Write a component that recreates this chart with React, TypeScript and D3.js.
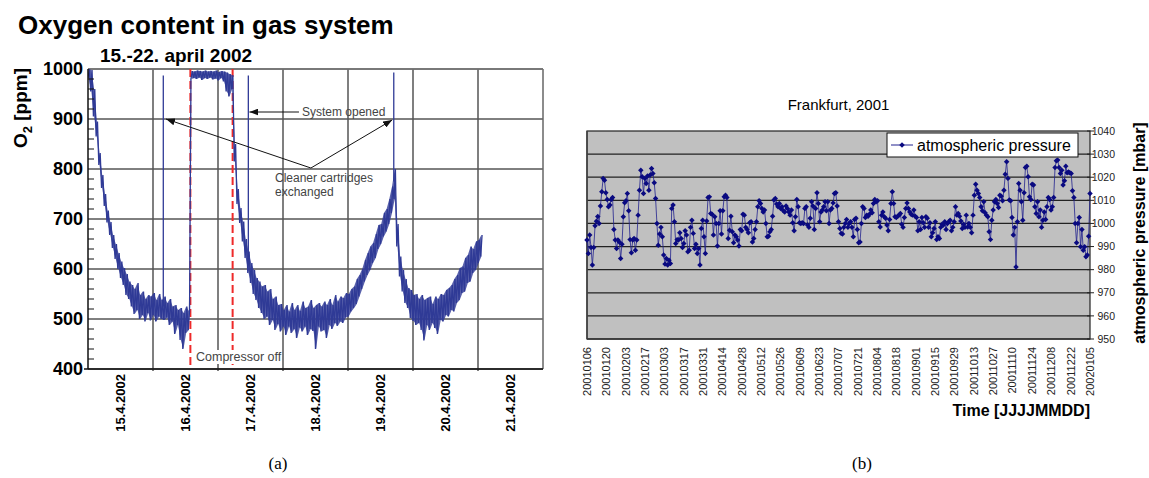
import React from 'react';
import * as d3 from 'd3';

const SANS = '"Liberation Sans", Arial, Helvetica, sans-serif';
const SERIF = '"Liberation Serif", "Times New Roman", serif';

// ---------- Panel (a): oxygen content, 15.-22. April 2002 ----------
const o2DayLabels = ['15.4.2002', '16.4.2002', '17.4.2002', '18.4.2002', '19.4.2002', '20.4.2002', '21.4.2002'];
const o2Ticks = [400, 500, 600, 700, 800, 900, 1000];

// hourly envelope of the O2 reading (index = hours since 15.4. 00:00), ppm
const o2Low = [
  982, 955, 905, 865, 808, 762, 726, 693, 668, 642,
  620, 600, 582, 568, 548, 540, 525, 510, 518, 500,
  508, 495, 512, 497, 508, 495, 505, 500, 498, 503,
  488, 495, 470, 488, 458, 440, 472, 478, 980, 982,
  980, 983, 978, 982, 980, 983, 979, 981, 977, 982,
  975, 955, 945, 960, 815, 730, 692, 655, 622, 592,
  572, 550, 538, 522, 512, 500, 505, 488, 498, 478,
  490, 475, 485, 468, 485, 472, 480, 462, 483, 475,
  485, 468, 480, 476, 440, 485, 475, 478, 462, 488,
  480, 492, 486, 495, 492, 503, 505, 515, 522, 530,
  545, 560, 575, 588, 598, 612, 622, 640, 650, 665,
  675, 690, 712, 740, 645, 585, 555, 532, 522, 502,
  496, 488, 492, 478, 457, 488, 478, 492, 482, 470,
  498, 495, 508, 505, 518, 515, 532, 538, 552, 555,
  572, 575, 592, 598, 612, 625,
];
const o2High = [
  1000, 998, 960, 895, 832, 788, 750, 717, 694, 668,
  650, 632, 615, 602, 590, 575, 568, 560, 572, 548,
  555, 540, 548, 545, 552, 538, 550, 538, 545, 532,
  540, 525, 528, 518, 522, 512, 525, 516, 996, 995,
  997, 996, 995, 997, 995, 996, 995, 997, 994, 996,
  995, 993, 990, 988, 850, 760, 722, 695, 660, 635,
  612, 598, 582, 575, 565, 568, 555, 560, 540, 545,
  528, 530, 518, 528, 515, 532, 518, 528, 516, 535,
  522, 525, 538, 522, 528, 532, 525, 535, 528, 540,
  528, 548, 535, 545, 542, 552, 550, 560, 565, 580,
  588, 600, 618, 632, 645, 652, 670, 688, 690, 712,
  720, 740, 765, 800, 690, 625, 598, 580, 562, 558,
  548, 550, 540, 548, 538, 542, 545, 530, 545, 540,
  550, 548, 558, 562, 568, 580, 588, 602, 605, 622,
  628, 645, 640, 655, 658, 668,
];

// short excursions when cleaner cartridges were exchanged / the system was opened
const spikeHours = [27.8, 59.2, 112.9];
const spikeBase = [525, 615, 775];
const spikeTop = [987, 987, 993];

// compressor switched off / on again (hours)
const compressorOffHours = [37.8, 53.4];

// ---------- Panel (b): Frankfurt atmospheric pressure 2001 ----------
const pressureDates = [
  '20010106', '20010120', '20010203', '20010217', '20010303', '20010317', '20010331',
  '20010414', '20010428', '20010512', '20010526', '20010609', '20010623', '20010707',
  '20010721', '20010804', '20010818', '20010901', '20010915', '20010929', '20011013',
  '20011027', '20011110', '20011124', '20011208', '20011222', '20020105',
];
const pressureTicks = [950, 960, 970, 980, 990, 1000, 1010, 1020, 1030, 1040];

// daily mean pressure, mbar
const pressure = [
  992.8, 987, 995, 989.6, 982, 989.6, 999, 1001, 1003, 1000,
  1007.5, 1013.7, 1019.5, 1018.7, 1013.3, 1010.4, 1007.2, 1008, 1010.4, 1011.2,
  997.4, 992.8, 989.2, 992.8, 992, 984.8, 991, 1002.9, 1009, 1009.8,
  1013, 1005.5, 993, 987.3, 992.8, 993.5, 988.4, 992.8, 1003.6, 1014.4,
  1023, 1020.2, 1013, 1019.5, 1017.3, 1020.5, 1014.4, 1021, 1023.8, 1021.6,
  1017.6, 1010.8, 1000, 990.6, 995.4, 998.3, 994.2, 986.3, 982.4, 984.8,
  982, 984.1, 982.7, 1006.5, 1008, 1000.7, 991.3, 993, 992.8, 996,
  993.5, 989.6, 991.3, 996.8, 995, 987.7, 988.4, 998.3, 1001.4, 995.7,
  989.2, 991, 987, 989.2, 982, 997.8, 1001.4, 994.2, 987, 1001.1,
  1011.2, 1011.5, 1004.3, 1004, 995, 1002.9, 1000, 990.2, 1000, 1005.5,
  995.4, 1005.5, 1011.5, 1012.2, 1011.2, 993.5, 997.1, 1003.1, 996.4, 991.6,
  995, 994.2, 992.8, 990.2, 997.4, 996.8, 1004, 1003.6, 998.3, 997.4,
  996, 1000.3, 1000.7, 992, 993.5, 997.4, 1000.7, 1007.2, 1009.8, 1008.6,
  1006.5, 1005, 1005.8, 1000, 994.2, 994.5, 996.4, 997.4, 1003.1, 1010.1,
  1010.8, 1008.4, 1007.2, 1008.6, 1006.5, 1007.2, 1005.5, 1005, 1007.5, 1006.5,
  1005, 1003.6, 1005.8, 1000.3, 996.8, 1002.9, 1010.4, 1007.2, 1000.3, 1000,
  1000.3, 1000, 1006.5, 1007.2, 999.3, 998.3, 1002.2, 1009.4, 1007.5, 997.4,
  1006.5, 1013.3, 1008.6, 1000.7, 1005, 1005.8, 1007.2, 1009.4, 1005.5, 1009.4,
  1000, 1005.8, 1006.5, 1008.9, 1013, 1013.3,
  1007.5, 1000.7, 997.8, 995.7, 995.4, 998.3, 1000, 1001.7, 998.3, 1000,
  1000.7, 998.3, 994.2, 1001.7, 1002.2, 997.4, 991.6, 992, 1000, 1007.2,
  1006.5, 1002.6, 1003.6, 1003.1, 1004, 1005.8, 1004.6, 1008.6, 1010.4, 1009.4,
  1009.8, 1000.7, 998.5, 1003.6, 1005, 1002.9, 1002.2, 999.3, 996.8, 1001.7,
  1008.6, 1013.7, 1008.6, 1002.9, 1002.6, 1003.1, 1003.6, 1004.3, 999.7, 998.3,
  1002.6, 1006.5, 1008.9, 1006.5, 1005, 1004, 1003.6, 1005.8, 1003.1, 1002.6,
  996.8, 1000.7, 997.4, 1002.6, 1000.3, 998.3, 1002.9, 1002.2, 998.3, 1000.3,
  994.2, 996, 997.8, 1000.7, 993, 994.2, 993.5, 998.3, 999.7, 999.3,
  1000.7, 997.4, 1000, 1000.7, 1001.4, 996.8, 998.3, 1000.7, 1007.2, 1003.6,
  1004.3, 1003.1, 1001.1, 997.8, 999.7, 998.3, 1003.6, 998.5, 1000, 998.3,
  996, 1003.6, 1012.2, 1017, 1014.4, 1013, 1011.2, 1007.2, 1005.5, 1009.4,
  1004.6, 1003.6, 1002.9, 996.4, 993, 1001.4, 1005.8, 1009.4, 1010.4, 1008.6,
  1006.9, 1012.2, 1011.8, 1009.8, 1014.4, 1021.3, 1026.7, 1019.5, 1010.1, 1009.8,
  1002.6, 995, 998.3, 981.2, 1000.7, 1017.3, 1014.4, 1009.4, 1001.4, 1013.3,
  1024.2, 1024.8, 1020.2, 1011.5, 1010.4, 1017, 1016.6, 1007.2, 1004.3, 1009.4,
  1002.9, 1005.8, 998.3, 1001.4, 1005, 1001.7, 1007.2, 1011.2, 1010.4, 1005.8,
  1007.2, 1011.2, 1024.2, 1027.1, 1027.4, 1024.2, 1021.6, 1023, 1016.6, 1018.5,
  1024.8, 1021.9, 1022.3, 1021.9, 1021.6, 1014.1, 1011.2, 1000, 991.6, 1000,
  1002.6, 989.9, 997.4, 988.4, 989.9, 985.6, 986.3, 994.5, 1013,
];

function OxygenPanel() {
  const xA = d3.scaleLinear().domain([0, 168]).range([88, 543]);
  const yA = d3.scaleLinear().domain([400, 1000]).range([369, 69]);
  const dayBand = d3.scaleBand<string>().domain(o2DayLabels).range([xA(0), xA(168)]);
  const minorTicks = yA.ticks(30).filter((t) => t % 100 !== 0);

  const tracePts: [number, number][] = [];
  o2Low.forEach((lo, i) => {
    tracePts.push([i, lo]);
    tracePts.push([i + 0.5, o2High[i]]);
  });
  const traceLine = d3
    .line<[number, number]>()
    .x((d) => xA(d[0]))
    .y((d) => yA(d[1]));
  // noise ribbon: lower edge through the hourly minima, upper edge through the maxima
  const ribbon = d3
    .area<number>()
    .x((_, i) => xA(i + 0.25))
    .y0((_, i) => yA(o2Low[i]))
    .y1((_, i) => yA(o2High[i]));

  const [x0, x1] = xA.range();
  const [yBot, yTop] = yA.range();

  return (
    <g>
      <defs>
        <clipPath id="o2clip">
          <rect x={x0} y={yTop - 1} width={x1 - x0} height={yBot - yTop + 1} />
        </clipPath>
        <marker id="arrowHead" markerUnits="userSpaceOnUse" markerWidth={9} markerHeight={7}
          refX={9} refY={3.5} orient="auto">
          <path d="M0,0 L9,3.5 L0,7 Z" fill="#111" />
        </marker>
      </defs>

      <text x={18} y={34} fontFamily={SANS} fontWeight="bold" fontSize={26} fill="#000">
        Oxygen content in gas system
      </text>
      <text x={100} y={62} fontFamily={SANS} fontWeight="bold" fontSize={19} fill="#000">
        15.-22. april 2002
      </text>

      {/* horizontal grid */}
      {o2Ticks.map((t) => (
        <line key={'hg' + t} x1={x0} x2={x1} y1={yA(t)} y2={yA(t)} stroke="#000" strokeWidth={1} />
      ))}
      {/* day boundaries */}
      {o2DayLabels.slice(1).map((d) => (
        <line key={'vg' + d} x1={dayBand(d)!} x2={dayBand(d)!} y1={yTop} y2={yBot + 2}
          stroke="#555" strokeWidth={1.5} />
      ))}
      <line x1={x1} x2={x1} y1={yTop} y2={yBot} stroke="#666" strokeWidth={1.5} />
      <line x1={x0} x2={x1} y1={yTop} y2={yTop} stroke="#777" strokeWidth={1.5} />

      {/* compressor off interval */}
      {compressorOffHours.map((h) => (
        <line key={'co' + h} x1={xA(h)} x2={xA(h)} y1={yTop} y2={yBot}
          stroke="#ee2a2a" strokeWidth={2} strokeDasharray="8,4" />
      ))}

      <g clipPath="url(#o2clip)">
        <path d={ribbon(o2Low) || ''} fill="#2f3a96" fillOpacity={0.8} stroke="none" />
        <path d={traceLine(tracePts) || ''} fill="none" stroke="#2f3a96" strokeWidth={1.3} />
        {spikeHours.map((h, i) => (
          <line key={'sp' + i} x1={xA(h)} x2={xA(h)} y1={yA(spikeBase[i])} y2={yA(spikeTop[i])}
            stroke="#2f3a96" strokeWidth={1.3} />
        ))}
      </g>

      {/* axes */}
      <line x1={x0} x2={x0} y1={yTop} y2={yBot} stroke="#111" strokeWidth={1.5} />
      <line x1={x0 - 4} x2={x1} y1={yBot} y2={yBot} stroke="#111" strokeWidth={1.5} />
      {minorTicks.map((t) => (
        <line key={'mt' + t} x1={x0} x2={x0 + 6} y1={yA(t)} y2={yA(t)} stroke="#111" strokeWidth={1} />
      ))}
      {o2Ticks.map((t) => (
        <text key={'yl' + t} x={83} y={yA(t)} dy="0.36em" textAnchor="end" fontFamily={SANS}
          fontWeight="bold" fontSize={18} fill="#000">
          {t}
        </text>
      ))}
      <text transform="translate(27,108) rotate(-90)" textAnchor="middle" fontFamily={SANS}
        fontWeight="bold" fontSize={19} fill="#000">
        O<tspan fontSize={13} dy={5}>2</tspan>
        <tspan dy={-5}> [ppm]</tspan>
      </text>
      {o2DayLabels.map((d) => {
        const cx = dayBand(d)! + dayBand.bandwidth() / 2;
        return (
          <text key={'xl' + d} transform={`translate(${cx},374) rotate(-90)`} dy="0.36em"
            textAnchor="end" fontFamily={SANS} fontWeight="bold" fontSize={13} fill="#000">
            {d}
          </text>
        );
      })}

      {/* annotations */}
      <rect x={195} y={350} width={87} height={14} fill="#fff" />
      <text x={196} y={361} fontFamily={SANS} fontSize={12.5} fill="#444">Compressor off</text>

      <line x1={xA(77.9)} y1={yA(914)} x2={xA(59.6)} y2={yA(914)} stroke="#111" strokeWidth={1}
        markerEnd="url(#arrowHead)" />
      <text x={302} y={116} fontFamily={SANS} fontSize={12} fill="#444">System opened</text>

      <line x1={xA(82.3)} y1={yA(802)} x2={xA(28.8)} y2={yA(900)} stroke="#111" strokeWidth={1}
        markerEnd="url(#arrowHead)" />
      <line x1={xA(82.3)} y1={yA(802)} x2={xA(112.3)} y2={yA(898)} stroke="#111" strokeWidth={1}
        markerEnd="url(#arrowHead)" />
      <text x={275} y={182} fontFamily={SANS} fontSize={12} fill="#444">Cleaner cartridges</text>
      <text x={275} y={196} fontFamily={SANS} fontSize={12} fill="#444">exchanged</text>

      <text x={278} y={469} textAnchor="middle" fontFamily={SERIF} fontSize={17} fill="#000">(a)</text>
    </g>
  );
}

function PressurePanel() {
  const xB = d3.scaleLinear().domain([0, pressure.length - 1]).range([587, 1090]);
  const xLab = d3.scalePoint<string>().domain(pressureDates).range([587, 1090]);
  const yB = d3.scaleLinear().domain([950, 1040]).range([339, 131]);
  const [x0, x1] = xB.range();
  const [yBot, yTop] = yB.range();

  const line = d3
    .line<number>()
    .x((_, i) => xB(i))
    .y((v) => yB(v));
  const diamond = d3.symbol(d3.symbolSquare, 15)();

  return (
    <g>
      <text x={(x0 + x1) / 2} y={110} textAnchor="middle" fontFamily={SANS} fontSize={15} fill="#000">
        Frankfurt, 2001
      </text>
      <rect x={x0} y={yTop} width={x1 - x0} height={yBot - yTop} fill="#c0c0c0" />
      {pressureTicks.slice(1, -1).map((t) => (
        <line key={'g' + t} x1={x0} x2={x1} y1={yB(t)} y2={yB(t)} stroke="#222" strokeWidth={1.2} />
      ))}
      <rect x={x0} y={yTop} width={x1 - x0} height={yBot - yTop} fill="none" stroke="#222" strokeWidth={1.2} />
      <line x1={x0} x2={x0} y1={yTop} y2={yBot} stroke="#444" strokeWidth={1.5} />
      <line x1={x0} x2={x1} y1={yBot} y2={yBot} stroke="#333" strokeWidth={1.5} />

      <path d={line(pressure) || ''} fill="none" stroke="#23238f" strokeOpacity={0.8} strokeWidth={1} />
      {pressure.map((v, i) => (
        <path key={'m' + i} d={diamond || ''} transform={`translate(${xB(i)},${yB(v)}) rotate(45)`}
          fill="#0a0a80" />
      ))}

      {/* right value axis */}
      {pressureTicks.map((t) => (
        <g key={'yt' + t}>
          <line x1={x1 - 3} x2={x1 + 4} y1={yB(t)} y2={yB(t)} stroke="#222" strokeWidth={1} />
          <text x={1115} y={yB(t)} dy="0.35em" textAnchor="end" fontFamily={SANS} fontSize={10.5} fill="#222">
            {t}
          </text>
        </g>
      ))}
      <text transform={`translate(1145,${(yTop + yBot) / 2 - 2}) rotate(-90)`} textAnchor="middle"
        fontFamily={SANS} fontWeight="bold" fontSize={16} fill="#000">
        atmospheric pressure [mbar]
      </text>

      {pressureDates.map((d) => (
        <text key={'xd' + d} transform={`translate(${xLab(d)},347) rotate(-90)`} dy="0.35em"
          textAnchor="end" fontFamily={SANS} fontSize={11} fill="#222">
          {d}
        </text>
      ))}
      <text x={x1} y={416} textAnchor="end" fontFamily={SANS} fontWeight="bold" fontSize={16} fill="#000">
        Time [JJJJMMDD]
      </text>

      {/* legend */}
      <rect x={887} y={133} width={191} height={24} fill="#fff" stroke="#111" strokeWidth={1} />
      <line x1={891} x2={913} y1={145} y2={145} stroke="#23238f" strokeWidth={1} />
      <path d={diamond || ''} transform="translate(902,145) rotate(45)" fill="#0a0a80" />
      <text x={917} y={151} fontFamily={SANS} fontSize={16} fill="#000">atmospheric pressure</text>

      <text x={862} y={469} textAnchor="middle" fontFamily={SERIF} fontSize={17} fill="#000">(b)</text>
    </g>
  );
}

export default function App() {
  return (
    <svg width={1149} height={478} viewBox="0 0 1149 478"
      style={{ position: 'absolute', left: 0, top: 0, background: '#fff' }}>
      <rect x={0} y={0} width={1149} height={478} fill="#fff" />
      <OxygenPanel />
      <PressurePanel />
    </svg>
  );
}
